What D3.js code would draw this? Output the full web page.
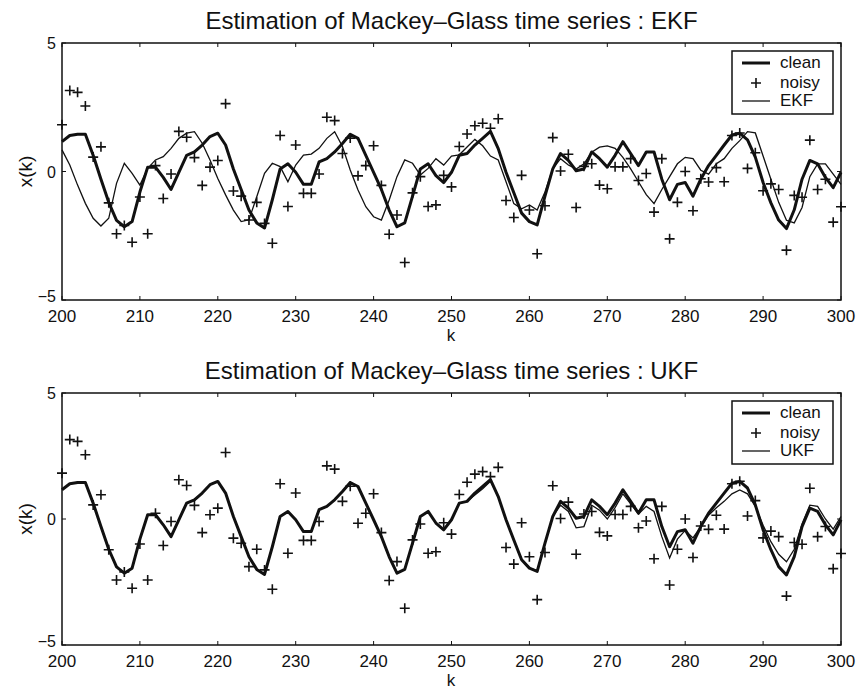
<!DOCTYPE html>
<html>
<head>
<meta charset="utf-8">
<script src="https://cdn.jsdelivr.net/npm/d3@7"></script>
<style>
  body { margin: 0; background: #fff; }
  svg text { font-family: "Liberation Sans", Arial, Helvetica, sans-serif; fill: #111; }
</style>
</head>
<body>
<div id="chart"></div>
<script>
// time index k = 200 .. 300
var kVals = d3.range(200, 301);

var xTicks = [200, 210, 220, 230, 240, 250, 260, 270, 280, 290, 300];
var yTicks = [-5, 0, 5];

// clean Mackey-Glass series
var clean = [
  1.16, 1.40, 1.45, 1.45, 0.63, -0.30, -1.20, -1.90, -2.15, -1.95,
  -0.80, 0.17, 0.17, -0.23, -0.70, -0.03, 0.63, 0.76, 1.03, 1.36,
  1.49, 1.03, 0.10, -0.70, -1.50, -2.00, -2.20, -1.10, 0.10, 0.30,
  -0.03, -0.50, -0.50, 0.37, 0.50, 0.76, 1.09, 1.45, 1.29, 0.63,
  -0.03, -0.70, -1.50, -2.15, -2.00, -0.96, 0.10, 0.30, -0.16, -0.43,
  -0.03, 0.63, 0.70, 1.03, 1.29, 1.56, 0.89, -0.03, -0.83, -1.62,
  -1.95, -2.08, -0.96, 0.10, 0.70, 0.43, 0.03, 0.10, 0.76, 0.50,
  0.17, 0.63, 1.16, 0.70, 0.23, 0.76, 0.76, -0.30, -1.10, -0.50,
  -0.43, -0.96, -0.30, 0.23, 0.63, 1.03, 1.42, 1.49, 1.23, 0.56,
  -0.43, -1.22, -1.89, -2.22, -1.49, -0.30, 0.43, 0.30, -0.23, -0.63,
  -0.03
];

// noisy observations
var noisy = [
  1.82, 3.15, 3.08, 2.55, 0.56, 0.96, -1.22, -2.42, -2.10, -2.75,
  -0.99, -2.42, 0.23, -1.05, -0.10, 1.56, 1.33, 0.54, -0.54, 0.17,
  0.43, 2.64, -0.76, -0.96, -1.89, -1.20, -2.02, -2.79, 1.40, -1.36,
  1.03, -0.85, -0.85, -0.10, 2.11, 1.98, 0.70, 1.30, -0.17, 0.23,
  1.00, -0.54, -2.44, -1.69, -3.54, -0.83, -0.20, -1.36, -1.30, -0.15,
  -0.60, 0.97, 1.46, 1.78, 1.88, 1.68, 2.05, -1.13, -1.79, -0.15,
  -1.50, -3.20, -1.33, 1.32, 0.02, 0.67, -1.40, 0.20, 0.30, -0.53,
  -0.67, 0.18, 0.18, 0.50, -0.35, -0.08, -1.58, 0.50, -2.62, -1.20,
  0.00, -1.53, -0.28, -0.41, 0.15, -0.40, 1.40, 1.50, 0.12, 0.73,
  -0.75, -0.48, -0.70, -3.06, -0.93, -1.00, 1.22, -0.70, -0.30, -1.97,
  -1.37
];

// EKF estimate
var ekf = [
  0.84, 0.25, -0.53, -1.24, -1.82, -2.12, -1.82, -0.46, 0.32, -0.07,
  -0.53, 0.12, 0.45, 0.58, 0.90, 1.29, 1.49, 1.55, 1.10, 0.45,
  -0.27, -0.91, -1.50, -1.95, -1.88, -0.98, -0.07, 0.32, 0.19, -0.40,
  0.25, 0.64, 0.68, 0.90, 1.29, 1.55, 0.97, 0.06, -0.72, -1.37,
  -1.76, -1.89, -1.11, -0.20, 0.45, 0.32, -0.14, 0.12, 0.50, 0.25,
  0.60, 0.65, 0.95, 1.25, 1.00, 0.60, 0.45, -0.40, -1.25, -1.45,
  -1.30, -1.50, -0.80, 0.10, 0.50, 0.25, 0.10, 0.30, 0.75, 0.95,
  1.00, 0.90, 0.55, 0.10, -0.40, -0.90, -1.25, -0.70, -0.20, 0.30,
  0.55, 0.50, 0.05, -0.10, 0.30, 0.50, 0.90, 1.20, 1.55, 1.50,
  0.60, -0.30, -1.20, -1.90, -2.00, -1.40, -0.20, 0.30, 0.30, -0.10,
  -0.50
];

// UKF estimate
var ukf = [
  1.16, 1.40, 1.45, 1.45, 0.63, -0.30, -1.20, -1.90, -2.15, -1.95,
  -0.80, 0.17, 0.17, -0.23, -0.70, -0.03, 0.63, 0.76, 1.03, 1.36,
  1.49, 1.03, 0.10, -0.70, -1.50, -2.00, -2.20, -1.10, 0.10, 0.30,
  -0.03, -0.50, -0.50, 0.37, 0.50, 0.76, 1.09, 1.45, 1.29, 0.63,
  -0.03, -0.70, -1.50, -2.15, -2.00, -0.96, 0.10, 0.30, -0.16, -0.43,
  -0.03, 0.63, 0.70, 0.95, 1.20, 1.50, 0.89, -0.03, -0.83, -1.62,
  -1.95, -2.05, -0.96, 0.10, 0.55, 0.30, -0.35, -0.30, 0.55, 0.35,
  0.00, 0.45, 1.00, 0.60, 0.20, 0.50, 0.30, -0.70, -1.55, -0.80,
  -0.45, -0.75, -0.30, 0.15, 0.45, 0.70, 1.00, 1.15, 1.00, 0.50,
  -0.25, -0.90, -1.40, -1.70, -1.20, -0.20, 0.55, 0.50, 0.00, -0.40,
  0.10
];

var W = 857, H = 691;
var svg = d3.select("#chart").append("svg")
  .attr("width", W).attr("height", H);

var x = d3.scaleLinear().domain([200, 300]).range([62, 841]);

// one panel: title, box, ticks, series, legend
var draw_panel = function(top, bottom, title, estName, est) {
  var y = d3.scaleLinear().domain([-5, 5]).range([bottom, top]);
  var g = svg.append("g");

  g.append("text")
    .attr("x", (62 + 841) / 2).attr("y", top - 14)
    .attr("text-anchor", "middle")
    .style("font-size", "24px")
    .text(title);

  // inward ticks on all four sides
  var tl = 4;
  xTicks.forEach(function(t) {
    g.append("line").attr("x1", x(t)).attr("x2", x(t))
      .attr("y1", bottom).attr("y2", bottom - tl).attr("stroke", "#111");
    g.append("line").attr("x1", x(t)).attr("x2", x(t))
      .attr("y1", top).attr("y2", top + tl).attr("stroke", "#111");
    g.append("text").attr("x", x(t)).attr("y", bottom + 22)
      .attr("text-anchor", "middle").style("font-size", "17px").text(t);
  });
  yTicks.forEach(function(t) {
    g.append("line").attr("x1", 62).attr("x2", 62 + tl)
      .attr("y1", y(t)).attr("y2", y(t)).attr("stroke", "#111");
    g.append("line").attr("x1", 841).attr("x2", 841 - tl)
      .attr("y1", y(t)).attr("y2", y(t)).attr("stroke", "#111");
    g.append("text").attr("x", 56).attr("y", y(t) + (t < 0 ? 2 : 6))
      .attr("text-anchor", "end").style("font-size", "16px")
      .text(t < 0 ? "\u2212" + Math.abs(t) : t);
  });

  g.append("text")
    .attr("transform", "translate(32," + y(0) + ") rotate(-90)")
    .attr("text-anchor", "middle").style("font-size", "19px")
    .text("x(k)");
  g.append("text")
    .attr("x", 451).attr("y", bottom + 41)
    .attr("text-anchor", "middle").style("font-size", "17px")
    .text("k");

  var line = d3.line()
    .x(function(d, i) { return x(kVals[i]); })
    .y(function(d) { return y(d); });

  g.append("path").datum(clean)
    .attr("d", line).attr("fill", "none")
    .attr("stroke", "#111").attr("stroke-width", 3)
    .attr("stroke-linejoin", "round");

  g.append("path").datum(est)
    .attr("d", line).attr("fill", "none")
    .attr("stroke", "#111").attr("stroke-width", 1.3);

  g.selectAll(".noisy").data(noisy).enter().append("path")
    .attr("class", "noisy")
    .attr("transform", function(d, i) { return "translate(" + x(kVals[i]) + "," + y(d) + ")"; })
    .attr("d", "M-5,0H5M0,-5V5")
    .attr("stroke", "#111").attr("stroke-width", 1.6);

  // axes box
  g.append("rect").attr("x", 62).attr("y", top)
    .attr("width", 841 - 62).attr("height", bottom - top)
    .attr("fill", "none").attr("stroke", "#111").attr("stroke-width", 1.5);

  // legend
  var lx = 732, ly = top + 8;
  g.append("rect").attr("x", lx).attr("y", ly)
    .attr("width", 101).attr("height", 63)
    .attr("fill", "#fff").attr("stroke", "#111").attr("stroke-width", 1.5);
  var rows = [ly + 12, ly + 32, ly + 50];
  g.append("line").attr("x1", lx + 10).attr("x2", lx + 38)
    .attr("y1", rows[0]).attr("y2", rows[0])
    .attr("stroke", "#111").attr("stroke-width", 3);
  g.append("path").attr("d", "M-5,0H5M0,-5V5")
    .attr("transform", "translate(" + (lx + 24) + "," + rows[1] + ")")
    .attr("stroke", "#111").attr("stroke-width", 1.6);
  g.append("line").attr("x1", lx + 10).attr("x2", lx + 38)
    .attr("y1", rows[2]).attr("y2", rows[2])
    .attr("stroke", "#111").attr("stroke-width", 1.3);
  ["clean", "noisy", estName].forEach(function(s, i) {
    g.append("text").attr("x", lx + 48).attr("y", rows[i] + 5)
      .style("font-size", "17px").text(s);
  });
};

draw_panel(43, 300, "Estimation of Mackey\u2013Glass time series : EKF", "EKF", ekf);
draw_panel(393, 645, "Estimation of Mackey\u2013Glass time series : UKF", "UKF", ukf);
</script>
</body>
</html>
